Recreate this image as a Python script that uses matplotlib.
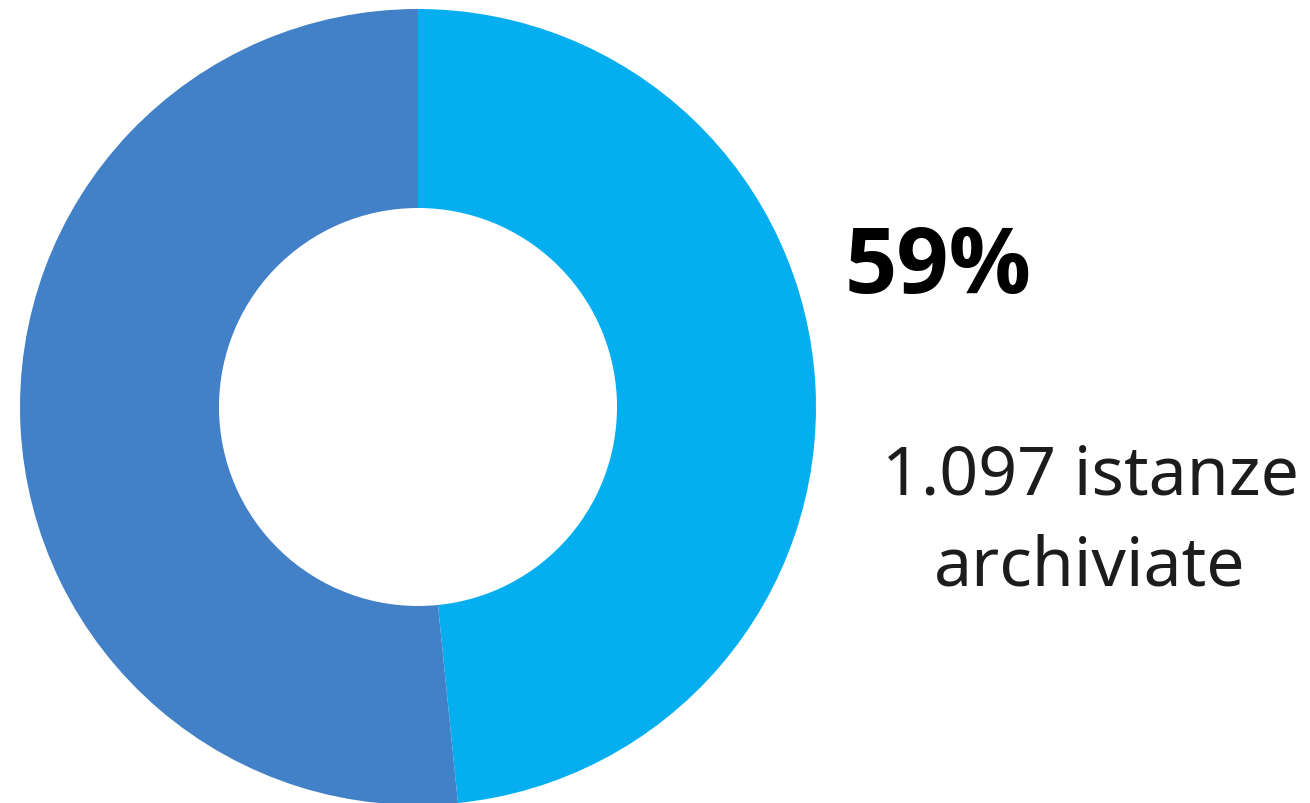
import matplotlib
matplotlib.use("Agg")
import matplotlib.pyplot as plt

plt.rcParams['font.family'] = ['Noto Sans', 'DejaVu Sans']

# Dati
etichette = ['archiviate', 'altre']
valori = [48.4, 51.6]
colori = ['#05AFEF', '#4280C8']
percentuale = '59%'
descrizione = '1.097 istanze\narchiviate'

W, H = 1310, 804
fig = plt.figure(figsize=(W / 100, H / 100), dpi=100)

# Asse del grafico: centro (418, 408) px, raggio ~398 px
cx, cy, r = 418, 408, 398
ax = fig.add_axes([(cx - r) / W, (H - cy - r) / H, 2 * r / W, 2 * r / H])
ax.pie(valori, colors=colori, startangle=90, counterclock=False,
       radius=1, wedgeprops=dict(width=0.5, linewidth=0))
ax.set_xlim(-1, 1)
ax.set_ylim(-1, 1)
ax.set_aspect('equal')
ax.axis('off')

# Testi
fig.text(938 / W, 1 - 269 / H, percentuale, ha='center', va='center',
         fontsize=66, fontweight='bold', color='#000000',
         family=['Open Sans', 'DejaVu Sans'])
fig.text(1090 / W, 1 - 522 / H, descrizione, ha='center', va='center',
         fontsize=49, color='#1c1c1c', linespacing=1.44)

fig.savefig('out.png', dpi=100)
